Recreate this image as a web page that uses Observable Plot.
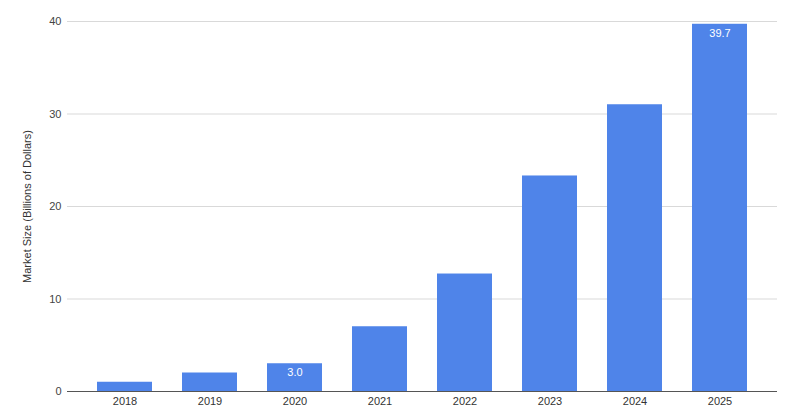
<!DOCTYPE html>
<html><head><meta charset="utf-8">
<script src="https://cdn.jsdelivr.net/npm/d3@7"></script>
<script src="https://cdn.jsdelivr.net/npm/@observablehq/plot@0.6"></script>
<style>body{margin:0;background:#fff;font-family:"Liberation Sans",Arial,sans-serif;}</style>
</head><body><div id="chart"></div>
<script>
const years = ["2018","2019","2020","2021","2022","2023","2024","2025"];
const values = [1.0, 2.0, 3.0, 7.0, 12.7, 23.3, 31.0, 39.7];
const labeledYears = ["2020","2025"];
const yTicks = [0, 10, 20, 30, 40];
const yLabel = "Market Size (Billions of Dollars)";

const data = years.map((y, i) => ({year: y, value: values[i]}));
const labeled = data.filter(d => labeledYears.includes(d.year));

const chart = Plot.plot({
  width: 800, height: 416,
  marginLeft: 67, marginRight: 23, marginTop: 21, marginBottom: 25,
  style: {fontFamily: "Liberation Sans, Arial, sans-serif", fontSize: "11px", color: "#333"},
  x: {domain: years, padding: 0.35, label: null, tickSize: 0, tickPadding: 6},
  y: {domain: [0, 40], ticks: yTicks, label: null, tickSize: 0, tickPadding: 6},
  marks: [
    Plot.gridY(yTicks, {stroke: "#d9d9d9", strokeOpacity: 1}),
    Plot.barY(data, {x: "year", y: "value", fill: "#4f84e9"}),
    Plot.ruleY([0], {stroke: "#555", strokeWidth: 1}),
    Plot.text(labeled, {x: "year", y: "value", text: d => d.value.toFixed(1), dy: 9, fill: "white", fontSize: 11}),
    Plot.axisY(yTicks, {tickSize: 0, tickPadding: 6, label: null, fill: "#444"}),
    Plot.axisX({tickSize: 0, tickPadding: 6, label: null, fill: "#333"}),
    Plot.text([yLabel], {frameAnchor: "left", textAnchor: "middle", dx: -40, rotate: -90, fontSize: 11, fill: "#333"})
  ]
});
document.getElementById("chart").appendChild(chart);
</script></body></html>
